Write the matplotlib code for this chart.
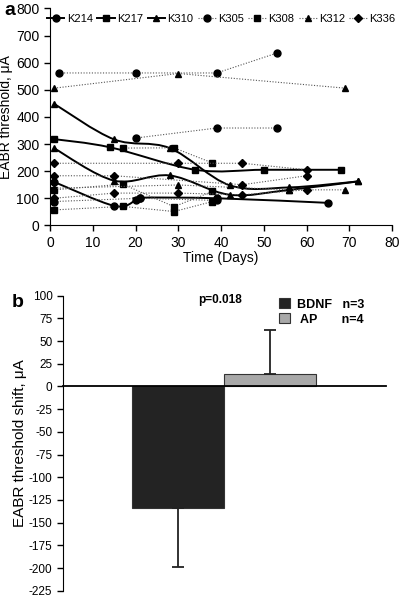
import matplotlib
matplotlib.use("Agg")
import matplotlib.pyplot as plt
from matplotlib.path import Path
from matplotlib.patches import PathPatch
from matplotlib.lines import Line2D

plt.rcParams['font.family'] = ['Liberation Sans', 'DejaVu Sans']
plt.rcParams['axes.unicode_minus'] = False

# Panel a: solid series (smoothed), days / threshold uA
k214_days = [1, 15, 20, 21, 39, 65]
k214_vals = [160, 72, 92, 102, 100, 83]
k217_days = [1, 14, 34, 50, 68]
k217_vals = [318, 288, 205, 205, 205]
k310a_days = [1, 15, 28, 42, 56, 72]
k310a_vals = [448, 317, 285, 148, 140, 162]
k310b_days = [1, 15, 28, 42, 56, 72]
k310b_vals = [284, 165, 184, 113, 131, 162]

# Panel a: dotted series (several electrodes per animal)
k305_days = [[2, 20, 39, 53], [20, 39, 53], [1, 21, 39]]
k305_vals = [[562, 562, 562, 635], [322, 359, 359], [88, 100, 92]]
k308_days = [[17, 29, 38], [1, 17, 29, 38], [1, 17, 29, 38]]
k308_vals = [[285, 286, 230], [57, 70, 51, 88], [131, 152, 69, 125]]
k312_days = [[1, 30, 69], [1, 30, 56, 69]]
k312_vals = [[506, 560, 506], [137, 149, 131, 131]]
k336_days = [[1, 30, 45, 60], [1, 15, 45, 60], [1, 15, 30, 45, 60]]
k336_vals = [[229, 229, 229, 205], [183, 183, 150, 183], [100, 119, 119, 113, 131]]

# Panel b
groups = ["BDNF   n=3", " AP       n=4"]
shift = [-134, 14]
shift_err = [65, 48]
bar_colors = ["#232323", "#a8a8a8"]


def smooth_path(x, y):
    # Catmull-Rom curve through the points, drawn as cubic Bezier segments
    verts = [(x[0], y[0])]
    codes = [Path.MOVETO]
    n = len(x)
    for i in range(n - 1):
        x0, y0 = (x[i - 1], y[i - 1]) if i > 0 else (x[i], y[i])
        x3, y3 = (x[i + 2], y[i + 2]) if i + 2 < n else (x[i + 1], y[i + 1])
        c1 = (x[i] + (x[i + 1] - x0) / 6, y[i] + (y[i + 1] - y0) / 6)
        c2 = (x[i + 1] - (x3 - x[i]) / 6, y[i + 1] - (y3 - y[i]) / 6)
        verts += [c1, c2, (x[i + 1], y[i + 1])]
        codes += [Path.CURVE4] * 3
    return Path(verts, codes)


fig = plt.figure(figsize=(4.03, 6.01), dpi=100)

# ---- panel a ----
ax = fig.add_axes([0.124, 0.625, 0.849, 0.361])
dot_ls = (0, (1, 1.5))
for days, vals, m in [(k305_days, k305_vals, "o"), (k308_days, k308_vals, "s"),
                      (k312_days, k312_vals, "^"), (k336_days, k336_vals, "D")]:
    for d, v in zip(days, vals):
        ax.plot(d, v, color="#555555", ls=dot_ls, lw=0.8)
        ax.plot(d, v, ls="none", marker=m, color="k", ms=5 if m != "D" else 4)

for d, v, m in [(k214_days, k214_vals, "o"), (k217_days, k217_vals, "s"),
                (k310a_days, k310a_vals, "^"), (k310b_days, k310b_vals, "^")]:
    ax.add_patch(PathPatch(smooth_path(d, v), fill=False, color="k", lw=1.4))
    ax.plot(d, v, ls="none", marker=m, color="k", ms=5)

handles = []
for m in ["o", "s", "^"]:
    handles.append(Line2D([], [], color="k", lw=1.4, marker=m, ms=5))
for m in ["o", "s", "^", "D"]:
    handles.append(Line2D([], [], color="#555555", ls=dot_ls, lw=0.8, marker=m,
                          ms=5 if m != "D" else 4, mfc="k", mec="k"))
ax.legend(handles, ["K214", "K217", "K310", "K305", "K308", "K312", "K336"],
          loc="upper center", bbox_to_anchor=(0.5, 1.0), ncol=7, frameon=False,
          fontsize=8, handlelength=1.6, handletextpad=0.2, columnspacing=0.4,
          borderaxespad=0.1)

ax.set_xlim(0, 80)
ax.set_ylim(0, 800)
ax.set_xticks(range(0, 81, 10))
ax.set_yticks(range(0, 801, 100))
ax.spines["top"].set_visible(False)
ax.spines["right"].set_visible(False)
ax.tick_params(labelsize=10, length=4, width=1)
ax.set_xlabel("Time (Days)", fontsize=10, labelpad=1)
ax.set_ylabel("EABR threshold, \u03bcA", fontsize=10, labelpad=2)
fig.text(0.01, 0.997, "a", fontsize=14, fontweight="bold", va="top")

# ---- panel b ----
bx = fig.add_axes([0.156, 0.017, 0.801, 0.491])
pos = [0, 1]
for p, val, err, c, lab in zip(pos, shift, shift_err, bar_colors, groups):
    bx.bar(p, val, width=1.0, color=c, edgecolor="#333333", lw=0.8, label=lab,
           yerr=[[err if val < 0 else 0], [err if val > 0 else 0]],
           error_kw=dict(ecolor="#222222", elinewidth=1.3, capsize=4, capthick=1.3))
bx.set_xlim(-1.255, 2.255)
bx.set_ylim(-225, 100)
bx.set_yticks(range(-225, 101, 25))
bx.set_xticks([])
bx.spines["top"].set_visible(False)
bx.spines["right"].set_visible(False)
bx.spines["bottom"].set_position(("data", 0))
bx.spines["bottom"].set_linewidth(1.3)
bx.tick_params(labelsize=8.5, length=4, width=1)
bx.set_ylabel("EABR threshold shift, \u03bcA", fontsize=11, labelpad=1)
bx.text(0.45, 95, "p=0.018", fontsize=8.5, fontweight="bold", ha="center", va="center")
bx.legend(loc="upper right", bbox_to_anchor=(0.97, 1.03), frameon=False,
          prop=dict(size=9, weight="bold"), handlelength=0.9, handleheight=0.9,
          handletextpad=0.6, labelspacing=0.2)
fig.text(0.03, 0.51, "b", fontsize=14, fontweight="bold", va="top")

fig.savefig("out.png", dpi=100)
